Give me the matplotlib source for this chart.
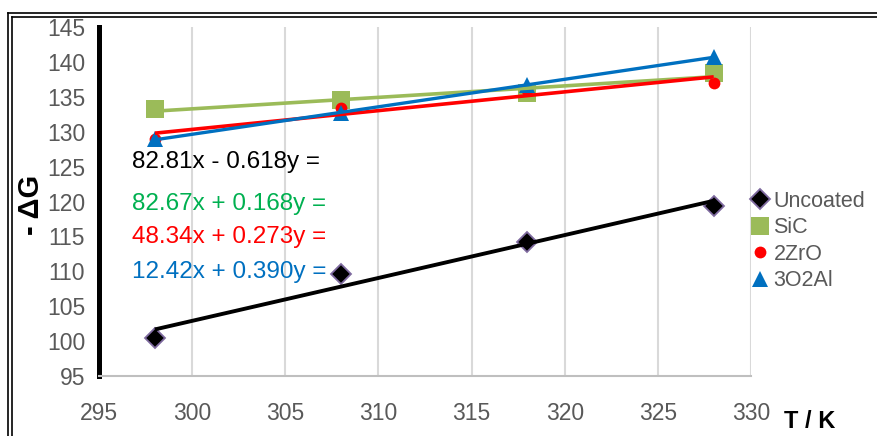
import numpy as np
import matplotlib.pyplot as plt
from matplotlib.lines import Line2D

plt.rcParams['font.family'] = ['Liberation Sans', 'DejaVu Sans']

# temperature (K) and -dG values for each coating
temps = [298, 308, 318, 328]
uncoated = [100.4, 109.6, 114.2, 119.35]
sic = [133.25, 134.5, 135.5, 138.4]
zro = [128.9, 133.4, 136.0, 137.0]
alo = [128.9, 132.7, 136.7, 140.7]

series_names = ['Uncoated', 'SiC', '2ZrO', '3O2Al']
eq_texts = ['82.81x - 0.618y =', '82.67x + 0.168y =',
            '48.34x + 0.273y =', '12.42x + 0.390y =']

x_ticks = [295, 300, 305, 310, 315, 320, 325, 330]
y_ticks = [95, 100, 105, 110, 115, 120, 125, 130, 135, 140, 145]

W, H = 877, 436
fig = plt.figure(figsize=(W / 100, H / 100), dpi=100)
ax = fig.add_axes([99 / W, (H - 376) / H, (751 - 99) / W, (376 - 27) / H])

styles = [
    dict(marker='D', ms=10, mfc='black', mec='#7F6A9F', mew=1.3, line='black', lw=2.8),
    dict(marker='s', ms=13, mfc='#9BBB59', mec='#9BBB59', mew=0, line='#9BBB59', lw=2.6),
    dict(marker='o', ms=8.5, mfc='#FF0000', mec='#FF0000', mew=0, line='#FF0000', lw=2.6),
    dict(marker='^', ms=12, mfc='#0070C0', mec='#0070C0', mew=0, line='#0070C0', lw=2.4),
]

handles = []
for vals, name, st in zip([uncoated, sic, zro, alo], series_names, styles):
    h, = ax.plot(temps, vals, linestyle='none', marker=st['marker'], ms=st['ms'],
                 mfc=st['mfc'], mec=st['mec'], mew=st['mew'], zorder=3, label=name,
                 clip_on=False)
    handles.append(h)
    # linear trendline over the measured range
    k, b = np.polyfit(temps, vals, 1)
    xs = np.array([temps[0], temps[-1]])
    ax.plot(xs, k * xs + b, color=st['line'], lw=st['lw'], zorder=4,
            solid_capstyle='butt')

ax.set_xlim(295, 330)
ax.set_ylim(95, 145)
ax.set_xticks(x_ticks)
ax.set_yticks(y_ticks)
ax.tick_params(length=0, labelsize=16.5, labelcolor='#595959', pad=10)
ax.tick_params(axis='x', pad=19)
ax.grid(axis='x', color='#D9D9D9', lw=1.5)
ax.set_axisbelow(True)

for s in ['top', 'right']:
    ax.spines[s].set_visible(False)
ax.spines['bottom'].set_color('#BFBFBF')
ax.spines['bottom'].set_linewidth(1.5)
ax.spines['left'].set_color('black')
ax.spines['left'].set_linewidth(3.6)

# fitted equation labels
eq_colors = ['black', '#00B050', '#FF0000', '#0070C0']
eq_y = [162, 204, 237, 272]
for txt, c, yp in zip(eq_texts, eq_colors, eq_y):
    fig.text(132 / W, 1 - yp / H, txt, color=c, fontsize=17.5,
             ha='left', va='center')

fig.text(810 / W, 1 - 421 / H, 'T / K', fontsize=17, fontweight='bold',
         ha='center', va='center', fontstretch='condensed')
fig.text(31 / W, 1 - 205 / H, '- ΔG', fontsize=21, fontweight='bold',
         rotation=90, ha='center', va='center')

leg = ax.legend(handles=handles, loc='upper left', bbox_to_anchor=(752 / W, 1 - 191 / H),
                bbox_transform=fig.transFigure, frameon=False, fontsize=15.5,
                handlelength=0.7, handletextpad=0.3, labelspacing=0.25,
                borderpad=0, borderaxespad=0)
for t in leg.get_texts():
    t.set_color('#595959')

# double frame around the chart area
for off in (8, 12):
    fig.add_artist(Line2D([off / W, off / W], [0, 1 - (off + 5) / H],
                          transform=fig.transFigure, color='black', lw=1.2))
    fig.add_artist(Line2D([off / W, 1], [1 - (off + 5) / H, 1 - (off + 5) / H],
                          transform=fig.transFigure, color='black', lw=1.2))

fig.savefig('out.png', dpi=100)
